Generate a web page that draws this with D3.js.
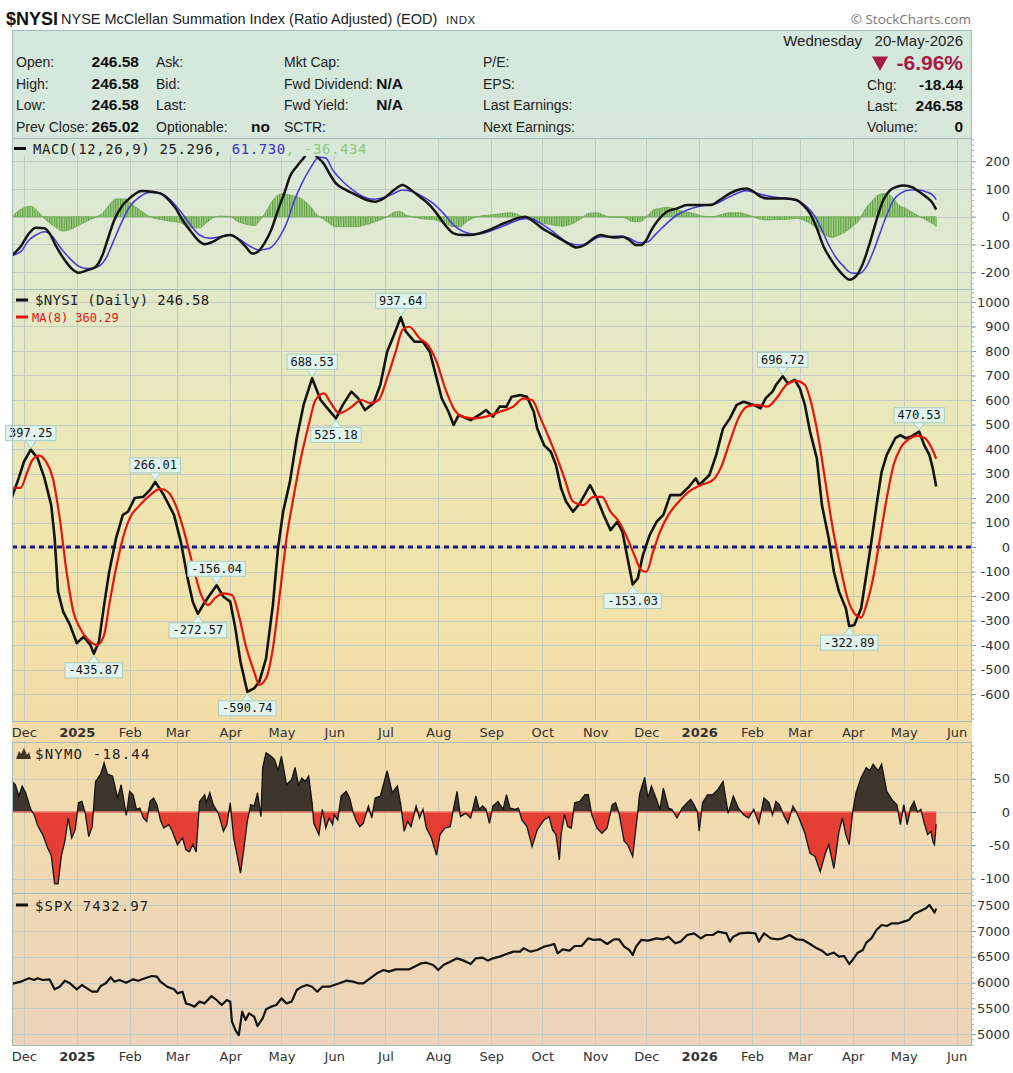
<!DOCTYPE html>
<html>
<head>
<meta charset="utf-8">
<script src="https://cdn.jsdelivr.net/npm/d3@7"></script>
<style>
  body { margin: 0; background: #fff; }
  svg { display: block; }
</style>
</head>
<body>
<div id="chart"></div>
<script>
// ---- data ----
const monthTicks = ["2024-12-01","2025-01-01","2025-02-01","2025-03-01","2025-04-01","2025-05-01","2025-06-01","2025-07-01","2025-08-01","2025-09-01","2025-10-01","2025-11-01","2025-12-01","2026-01-01","2026-02-01","2026-03-01","2026-04-01","2026-05-01","2026-06-01"];
const monthLabels = ["Dec","2025","Feb","Mar","Apr","May","Jun","Jul","Aug","Sep","Oct","Nov","Dec","2026","Feb","Mar","Apr","May","Jun"];

const macdTicks = [-200, -100, 0, 100, 200];
const mainTicks = [-600, -500, -400, -300, -200, -100, 0, 100, 200, 300, 400, 500, 600, 700, 800, 900, 1000];
const nymoTicks = [-100, -50, 0, 50];
const spxTicks = [5000, 5500, 6000, 6500, 7000, 7500];

// $NYSI daily
const nysi = [["2024-11-24",205],["2024-11-28",282],["2024-12-01",348],["2024-12-05",397.25],["2024-12-09",363],["2024-12-13",282],["2024-12-17",171],["2024-12-19",37],["2024-12-21",-182],["2024-12-24",-264],["2024-12-28",-318],["2025-01-01",-392],["2025-01-05",-366],["2025-01-09",-400],["2025-01-11",-435.87],["2025-01-14",-386],["2025-01-17",-237],["2025-01-20",-101],["2025-01-24",35],["2025-01-28",131],["2025-01-31",144],["2025-02-04",200],["2025-02-09",205],["2025-02-13",233],["2025-02-16",266.01],["2025-02-21",212],["2025-02-27",131],["2025-03-03",22],["2025-03-07",-128],["2025-03-10",-223],["2025-03-13",-272.57],["2025-03-16",-237],["2025-03-20",-196],["2025-03-24",-156.04],["2025-03-28",-203],["2025-04-01",-223],["2025-04-04",-332],["2025-04-07",-468],["2025-04-11",-590.74],["2025-04-15",-577],["2025-04-18",-550],["2025-04-22",-454],["2025-04-26",-237],["2025-04-29",-5],["2025-05-02",144],["2025-05-06",267],["2025-05-10",444],["2025-05-14",580],["2025-05-19",688.53],["2025-05-24",600],["2025-05-28",566],["2025-06-02",525.18],["2025-06-06",580],["2025-06-11",634],["2025-06-15",607],["2025-06-19",559],["2025-06-24",587],["2025-06-28",661],["2025-07-02",797],["2025-07-06",865],["2025-07-10",937.64],["2025-07-13",879],["2025-07-18",838],["2025-07-23",838],["2025-07-27",797],["2025-07-31",689],["2025-08-03",607],["2025-08-07",552],["2025-08-10",498],["2025-08-13",539],["2025-08-20",518],["2025-08-25",539],["2025-08-29",559],["2025-09-02",532],["2025-09-06",573],["2025-09-10",573],["2025-09-13",613],["2025-09-18",620],["2025-09-22",613],["2025-09-26",552],["2025-09-28",484],["2025-10-02",416],["2025-10-06",389],["2025-10-09",335],["2025-10-12",240],["2025-10-15",185],["2025-10-19",144],["2025-10-23",178],["2025-10-29",253],["2025-11-02",199],["2025-11-06",131],["2025-11-10",69],["2025-11-14",103],["2025-11-17",62],["2025-11-20",-46],["2025-11-23",-153.03],["2025-11-26",-128],["2025-11-29",-33],["2025-12-03",49],["2025-12-07",103],["2025-12-11",131],["2025-12-15",212],["2025-12-21",212],["2025-12-26",246],["2025-12-30",280],["2026-01-01",253],["2026-01-07",294],["2026-01-11",376],["2026-01-15",484],["2026-01-19",525],["2026-01-23",580],["2026-01-27",593],["2026-02-02",580],["2026-02-06",566],["2026-02-09",607],["2026-02-13",634],["2026-02-15",661],["2026-02-19",696.72],["2026-02-22",668],["2026-02-26",682],["2026-03-01",648],["2026-03-04",580],["2026-03-07",471],["2026-03-11",362],["2026-03-14",171],["2026-03-18",35],["2026-03-21",-101],["2026-03-24",-182],["2026-03-28",-250],["2026-03-30",-322.89],["2026-04-02",-318],["2026-04-06",-250],["2026-04-09",-114],["2026-04-12",22],["2026-04-15",171],["2026-04-18",307],["2026-04-21",376],["2026-04-26",444],["2026-04-29",457],["2026-05-02",444],["2026-05-05",450],["2026-05-10",470.53],["2026-05-13",416],["2026-05-16",376],["2026-05-18",321],["2026-05-20",246.58]];

// MA(8) of $NYSI
const ma8 = [["2024-11-24",241],["2024-11-29",241],["2024-12-03",307],["2024-12-06",355],["2024-12-10",373],["2024-12-14",348],["2024-12-18",280],["2024-12-22",117],["2024-12-26",-101],["2024-12-30",-264],["2025-01-03",-332],["2025-01-09",-386],["2025-01-13",-400],["2025-01-17",-359],["2025-01-20",-237],["2025-01-24",-87],["2025-01-28",35],["2025-02-01",117],["2025-02-07",171],["2025-02-13",212],["2025-02-19",237],["2025-02-23",227],["2025-02-28",171],["2025-03-05",62],["2025-03-10",-73],["2025-03-15",-196],["2025-03-19",-237],["2025-03-23",-209],["2025-03-28",-189],["2025-04-02",-196],["2025-04-06",-278],["2025-04-10",-400],["2025-04-15",-509],["2025-04-18",-563],["2025-04-22",-536],["2025-04-26",-414],["2025-04-30",-196],["2025-05-04",35],["2025-05-08",199],["2025-05-12",348],["2025-05-17",498],["2025-05-21",600],["2025-05-26",627],["2025-05-30",587],["2025-06-04",546],["2025-06-10",566],["2025-06-17",600],["2025-06-22",587],["2025-06-27",600],["2025-07-02",689],["2025-07-07",797],["2025-07-11",886],["2025-07-15",899],["2025-07-21",852],["2025-07-26",824],["2025-07-31",756],["2025-08-05",648],["2025-08-10",566],["2025-08-15",532],["2025-08-22",525],["2025-08-29",532],["2025-09-06",552],["2025-09-14",573],["2025-09-20",607],["2025-09-25",600],["2025-09-30",525],["2025-10-05",444],["2025-10-09",376],["2025-10-14",280],["2025-10-19",185],["2025-10-25",171],["2025-10-31",205],["2025-11-05",205],["2025-11-10",144],["2025-11-15",103],["2025-11-19",49],["2025-11-24",-33],["2025-11-28",-94],["2025-12-01",-101],["2025-12-05",-19],["2025-12-09",62],["2025-12-14",131],["2025-12-20",185],["2025-12-26",226],["2026-01-02",253],["2026-01-09",273],["2026-01-14",328],["2026-01-19",430],["2026-01-24",525],["2026-01-29",573],["2026-02-04",580],["2026-02-10",573],["2026-02-16",613],["2026-02-21",661],["2026-02-27",678],["2026-03-04",661],["2026-03-08",580],["2026-03-12",444],["2026-03-16",267],["2026-03-20",90],["2026-03-25",-87],["2026-03-29",-209],["2026-04-03",-278],["2026-04-06",-288],["2026-04-09",-237],["2026-04-13",-128],["2026-04-17",35],["2026-04-21",199],["2026-04-25",335],["2026-04-29",403],["2026-05-04",441],["2026-05-09",454],["2026-05-13",446],["2026-05-17",409],["2026-05-20",360.29]];

// labelled turning points of $NYSI
const nysiMarks = [["2024-12-05",397.25,"up"],["2025-01-11",-435.87,"down"],["2025-02-16",266.01,"up"],["2025-03-13",-272.57,"down"],["2025-03-24",-156.04,"up"],["2025-04-11",-590.74,"down"],["2025-05-19",688.53,"up"],["2025-06-02",525.18,"down"],["2025-07-10",937.64,"up"],["2025-11-23",-153.03,"down"],["2026-02-19",696.72,"up"],["2026-03-30",-322.89,"down"],["2026-05-10",470.53,"up"]];

// MACD(12,26,9)
const macdLine = [["2024-11-24",-139],["2024-11-29",-108],["2024-12-04",-60],["2024-12-08",-40],["2024-12-13",-42],["2024-12-16",-60],["2024-12-20",-108],["2024-12-25",-157],["2024-12-29",-187],["2025-01-02",-202],["2025-01-07",-193],["2025-01-12",-181],["2025-01-16",-139],["2025-01-19",-84],["2025-01-23",-12],["2025-01-28",42],["2025-02-02",72],["2025-02-08",93],["2025-02-14",90],["2025-02-19",84],["2025-02-24",60],["2025-02-28",30],["2025-03-04",-12],["2025-03-09",-54],["2025-03-13",-84],["2025-03-17",-99],["2025-03-22",-90],["2025-03-27",-72],["2025-04-01",-66],["2025-04-05",-78],["2025-04-10",-108],["2025-04-14",-133],["2025-04-17",-127],["2025-04-21",-96],["2025-04-25",-48],["2025-04-29",24],["2025-05-03",90],["2025-05-06",145],["2025-05-10",181],["2025-05-14",211],["2025-05-18",240],["2025-05-22",215],["2025-05-26",190],["2025-05-29",157],["2025-06-02",120],["2025-06-08",96],["2025-06-14",78],["2025-06-20",60],["2025-06-25",54],["2025-06-30",66],["2025-07-06",96],["2025-07-11",114],["2025-07-16",96],["2025-07-21",72],["2025-07-27",42],["2025-07-31",12],["2025-08-05",-30],["2025-08-10",-60],["2025-08-15",-66],["2025-08-20",-66],["2025-08-25",-60],["2025-08-31",-48],["2025-09-06",-30],["2025-09-11",-18],["2025-09-16",-6],["2025-09-21",0],["2025-09-26",-18],["2025-10-01",-42],["2025-10-06",-60],["2025-10-11",-78],["2025-10-16",-96],["2025-10-21",-111],["2025-10-26",-102],["2025-10-31",-78],["2025-11-04",-66],["2025-11-09",-72],["2025-11-14",-75],["2025-11-17",-72],["2025-11-21",-84],["2025-11-25",-102],["2025-11-28",-102],["2025-12-01",-84],["2025-12-04",-48],["2025-12-08",-12],["2025-12-13",18],["2025-12-19",30],["2025-12-25",42],["2025-12-30",42],["2026-01-03",42],["2026-01-08",42],["2026-01-13",60],["2026-01-19",84],["2026-01-25",99],["2026-01-29",102],["2026-02-02",90],["2026-02-06",72],["2026-02-10",66],["2026-02-15",66],["2026-02-21",66],["2026-02-27",60],["2026-03-03",42],["2026-03-07",12],["2026-03-11",-42],["2026-03-15",-108],["2026-03-19",-151],["2026-03-23",-187],["2026-03-27",-214],["2026-03-30",-227],["2026-04-03",-214],["2026-04-07",-169],["2026-04-11",-96],["2026-04-15",-12],["2026-04-19",60],["2026-04-23",96],["2026-04-27",108],["2026-05-01",112],["2026-05-06",106],["2026-05-10",90],["2026-05-14",72],["2026-05-18",48],["2026-05-20",25.296]];

const macdSignal = [["2024-11-24",-139],["2024-11-29",-127],["2024-12-04",-84],["2024-12-08",-66],["2024-12-13",-54],["2024-12-17",-66],["2024-12-22",-108],["2024-12-28",-151],["2025-01-03",-181],["2025-01-08",-187],["2025-01-13",-181],["2025-01-18",-151],["2025-01-22",-96],["2025-01-27",-24],["2025-02-01",36],["2025-02-07",72],["2025-02-13",87],["2025-02-19",84],["2025-02-25",60],["2025-03-03",18],["2025-03-08",-24],["2025-03-14",-66],["2025-03-20",-78],["2025-03-26",-72],["2025-04-01",-66],["2025-04-07",-84],["2025-04-13",-108],["2025-04-18",-120],["2025-04-24",-114],["2025-04-30",-72],["2025-05-04",-24],["2025-05-08",48],["2025-05-13",120],["2025-05-18",175],["2025-05-23",214],["2025-05-27",211],["2025-05-31",169],["2025-06-06",127],["2025-06-12",96],["2025-06-18",72],["2025-06-24",63],["2025-06-30",69],["2025-07-06",84],["2025-07-11",96],["2025-07-17",90],["2025-07-23",72],["2025-07-29",48],["2025-08-04",12],["2025-08-10",-30],["2025-08-16",-54],["2025-08-22",-63],["2025-08-27",-60],["2025-09-02",-48],["2025-09-06",-39],["2025-09-12",-24],["2025-09-18",-10],["2025-09-24",-6],["2025-09-30",-24],["2025-10-06",-48],["2025-10-11",-72],["2025-10-17",-96],["2025-10-23",-102],["2025-10-29",-90],["2025-11-04",-72],["2025-11-10",-72],["2025-11-16",-70],["2025-11-21",-78],["2025-11-27",-94],["2025-12-02",-90],["2025-12-07",-60],["2025-12-13",-24],["2025-12-19",6],["2025-12-25",24],["2025-12-31",36],["2026-01-05",42],["2026-01-11",48],["2026-01-17",66],["2026-01-23",84],["2026-01-29",94],["2026-02-04",84],["2026-02-10",75],["2026-02-15",70],["2026-02-21",66],["2026-02-27",58],["2026-03-05",36],["2026-03-10",0],["2026-03-14",-48],["2026-03-18",-102],["2026-03-22",-145],["2026-03-27",-181],["2026-03-31",-202],["2026-04-05",-205],["2026-04-09",-181],["2026-04-13",-127],["2026-04-17",-60],["2026-04-21",6],["2026-04-25",60],["2026-04-29",84],["2026-05-05",96],["2026-05-10",96],["2026-05-14",90],["2026-05-18",78],["2026-05-20",61.73]];

const macdHist = [["2024-11-24",0],["2024-11-29",26],["2024-12-05",38],["2024-12-08",26],["2024-12-12",0],["2024-12-16",-22],["2024-12-20",-40],["2024-12-24",-52],["2024-12-28",-46],["2025-01-03",-28],["2025-01-09",-10],["2025-01-13",0],["2025-01-17",18],["2025-01-20",42],["2025-01-24",64],["2025-01-29",64],["2025-02-03",42],["2025-02-07",24],["2025-02-13",0],["2025-02-19",-10],["2025-02-25",-16],["2025-03-03",-22],["2025-03-08",-40],["2025-03-14",-40],["2025-03-18",-22],["2025-03-22",-4],["2025-03-26",2],["2025-04-01",0],["2025-04-05",-16],["2025-04-11",-28],["2025-04-15",-32],["2025-04-18",-16],["2025-04-22",18],["2025-04-26",60],["2025-05-01",82],["2025-05-06",78],["2025-05-10",72],["2025-05-14",60],["2025-05-18",36],["2025-05-22",6],["2025-05-26",-10],["2025-05-30",-28],["2025-06-02",-36],["2025-06-08",-36],["2025-06-14",-36],["2025-06-20",-28],["2025-06-26",-16],["2025-07-02",0],["2025-07-07",18],["2025-07-10",18],["2025-07-13",6],["2025-07-17",0],["2025-07-23",-8],["2025-07-29",-10],["2025-08-04",-22],["2025-08-10",-36],["2025-08-14",-36],["2025-08-18",-16],["2025-08-24",0],["2025-08-31",6],["2025-09-06",10],["2025-09-12",14],["2025-09-16",10],["2025-09-20",-2],["2025-09-26",-18],["2025-10-02",-24],["2025-10-07",-30],["2025-10-13",-34],["2025-10-19",-24],["2025-10-24",-6],["2025-10-28",12],["2025-11-02",14],["2025-11-06",6],["2025-11-10",-2],["2025-11-16",-2],["2025-11-19",-6],["2025-11-23",-18],["2025-11-27",-18],["2025-12-01",-2],["2025-12-05",24],["2025-12-09",30],["2025-12-13",34],["2025-12-17",30],["2025-12-23",18],["2025-12-29",12],["2026-01-03",2],["2026-01-09",0],["2026-01-13",6],["2026-01-19",14],["2026-01-25",14],["2026-01-30",6],["2026-02-04",-6],["2026-02-10",-12],["2026-02-15",-10],["2026-02-21",-10],["2026-02-27",-6],["2026-03-03",-12],["2026-03-07",-24],["2026-03-11",-42],["2026-03-16",-66],["2026-03-20",-75],["2026-03-24",-66],["2026-03-28",-54],["2026-04-01",-34],["2026-04-05",-12],["2026-04-08",24],["2026-04-12",54],["2026-04-16",78],["2026-04-20",84],["2026-04-24",72],["2026-04-28",42],["2026-05-02",30],["2026-05-07",12],["2026-05-11",-2],["2026-05-16",-18],["2026-05-19",-30],["2026-05-20",-36.434]];

// $NYMO
const nymo = [["2024-11-24",46],["2024-11-26",41],["2024-11-28",24],["2024-11-30",39],["2024-12-02",29],["2024-12-05",4],["2024-12-07",-4],["2024-12-09",-20],["2024-12-12",-34],["2024-12-15",-55],["2024-12-17",-65],["2024-12-19",-108],["2024-12-21",-108],["2024-12-23",-65],["2024-12-25",-44],["2024-12-27",-9],["2024-12-29",-39],["2024-12-31",-27],["2025-01-02",14],["2025-01-04",16],["2025-01-06",-2],["2025-01-08",-37],["2025-01-10",-22],["2025-01-12",46],["2025-01-15",57],["2025-01-17",74],["2025-01-19",57],["2025-01-22",54],["2025-01-25",21],["2025-01-27",41],["2025-01-29",11],["2025-01-30",-5],["2025-02-01",31],["2025-02-03",26],["2025-02-05",4],["2025-02-07",6],["2025-02-09",-9],["2025-02-11",-14],["2025-02-13",16],["2025-02-15",21],["2025-02-17",11],["2025-02-19",-12],["2025-02-21",-24],["2025-02-24",-19],["2025-02-26",-29],["2025-03-01",-49],["2025-03-04",-39],["2025-03-06",-57],["2025-03-08",-60],["2025-03-10",-49],["2025-03-12",-60],["2025-03-14",16],["2025-03-17",26],["2025-03-18",14],["2025-03-20",29],["2025-03-22",11],["2025-03-25",-2],["2025-03-28",-29],["2025-03-30",-19],["2025-04-01",14],["2025-04-03",-39],["2025-04-05",-65],["2025-04-07",-92],["2025-04-09",-55],["2025-04-11",-14],["2025-04-13",11],["2025-04-15",9],["2025-04-17",29],["2025-04-19",-7],["2025-04-20",67],["2025-04-22",89],["2025-04-25",84],["2025-04-27",79],["2025-04-29",62],["2025-05-01",84],["2025-05-04",41],["2025-05-07",49],["2025-05-09",67],["2025-05-11",41],["2025-05-13",51],["2025-05-15",46],["2025-05-17",54],["2025-05-19",14],["2025-05-20",-17],["2025-05-23",-34],["2025-05-25",4],["2025-05-27",-24],["2025-05-29",-9],["2025-05-31",-19],["2025-06-01",-4],["2025-06-03",-12],["2025-06-05",24],["2025-06-08",31],["2025-06-10",21],["2025-06-12",0],["2025-06-14",-14],["2025-06-16",-22],["2025-06-18",-17],["2025-06-21",9],["2025-06-23",-9],["2025-06-25",21],["2025-06-28",24],["2025-07-02",62],["2025-07-05",29],["2025-07-08",39],["2025-07-10",11],["2025-07-12",-29],["2025-07-14",-14],["2025-07-16",-22],["2025-07-19",9],["2025-07-21",-9],["2025-07-23",4],["2025-07-25",-24],["2025-07-28",-39],["2025-07-31",-65],["2025-08-02",-34],["2025-08-05",-24],["2025-08-08",-22],["2025-08-10",6],["2025-08-12",31],["2025-08-14",-7],["2025-08-17",-2],["2025-08-20",-9],["2025-08-23",24],["2025-08-25",4],["2025-08-27",9],["2025-08-29",4],["2025-08-31",-17],["2025-09-02",9],["2025-09-05",16],["2025-09-08",4],["2025-09-10",26],["2025-09-12",6],["2025-09-15",4],["2025-09-17",6],["2025-09-19",-12],["2025-09-22",-22],["2025-09-25",-52],["2025-09-28",-27],["2025-10-02",-12],["2025-10-05",-7],["2025-10-07",-27],["2025-10-09",-34],["2025-10-11",-72],["2025-10-12",-34],["2025-10-14",-4],["2025-10-16",-22],["2025-10-18",-24],["2025-10-20",14],["2025-10-23",16],["2025-10-26",26],["2025-10-28",26],["2025-10-30",-4],["2025-11-02",-24],["2025-11-05",-32],["2025-11-08",-24],["2025-11-11",11],["2025-11-13",14],["2025-11-15",-2],["2025-11-18",-44],["2025-11-20",-49],["2025-11-23",-67],["2025-11-26",0],["2025-11-27",26],["2025-11-30",52],["2025-12-02",21],["2025-12-04",39],["2025-12-07",19],["2025-12-09",4],["2025-12-11",36],["2025-12-14",6],["2025-12-16",4],["2025-12-19",-9],["2025-12-22",6],["2025-12-25",14],["2025-12-27",19],["2025-12-29",11],["2025-12-31",0],["2026-01-01",-29],["2026-01-03",14],["2026-01-06",26],["2026-01-09",26],["2026-01-12",34],["2026-01-15",46],["2026-01-18",-2],["2026-01-21",24],["2026-01-24",6],["2026-01-27",-4],["2026-01-30",-9],["2026-02-02",4],["2026-02-05",-17],["2026-02-08",21],["2026-02-11",14],["2026-02-13",-4],["2026-02-15",16],["2026-02-17",11],["2026-02-20",-7],["2026-02-22",-17],["2026-02-25",9],["2026-02-27",0],["2026-03-01",-12],["2026-03-04",-32],["2026-03-07",-62],["2026-03-10",-67],["2026-03-13",-90],["2026-03-16",-62],["2026-03-18",-49],["2026-03-21",-85],["2026-03-24",-29],["2026-03-26",-9],["2026-03-28",-34],["2026-03-30",-49],["2026-04-01",0],["2026-04-03",29],["2026-04-06",52],["2026-04-09",67],["2026-04-11",62],["2026-04-13",72],["2026-04-16",62],["2026-04-18",72],["2026-04-21",31],["2026-04-24",19],["2026-04-27",11],["2026-04-29",-19],["2026-05-01",11],["2026-05-03",-19],["2026-05-05",6],["2026-05-07",16],["2026-05-09",0],["2026-05-11",4],["2026-05-13",-17],["2026-05-15",-34],["2026-05-17",-29],["2026-05-18",-44],["2026-05-19",-49],["2026-05-20",-18.44]];

// $SPX
const spx = [["2024-11-24",5973],["2024-11-29",6018],["2024-12-04",6083],["2024-12-07",6050],["2024-12-09",6083],["2024-12-12",6050],["2024-12-16",6063],["2024-12-19",5870],["2024-12-22",5921],["2024-12-25",6037],["2024-12-28",5986],["2025-01-01",5870],["2025-01-04",5954],["2025-01-07",5889],["2025-01-10",5824],["2025-01-13",5824],["2025-01-15",5934],["2025-01-18",5986],["2025-01-21",6102],["2025-01-23",6018],["2025-01-26",6050],["2025-01-30",5999],["2025-02-03",6063],["2025-02-06",6037],["2025-02-10",6083],["2025-02-14",6128],["2025-02-17",6115],["2025-02-19",6018],["2025-02-23",5921],["2025-02-27",5870],["2025-03-01",5792],["2025-03-04",5824],["2025-03-06",5598],["2025-03-09",5566],["2025-03-11",5534],["2025-03-14",5631],["2025-03-17",5598],["2025-03-21",5740],["2025-03-24",5663],["2025-03-27",5566],["2025-03-30",5663],["2025-04-01",5631],["2025-04-02",5243],["2025-04-04",5081],["2025-04-06",4984],["2025-04-08",5437],["2025-04-10",5275],["2025-04-12",5404],["2025-04-15",5340],["2025-04-17",5159],["2025-04-20",5307],["2025-04-22",5482],["2025-04-25",5534],["2025-04-28",5566],["2025-05-01",5695],["2025-05-04",5598],["2025-05-07",5631],["2025-05-10",5857],["2025-05-13",5921],["2025-05-16",5954],["2025-05-19",5921],["2025-05-22",5824],["2025-05-25",5921],["2025-05-29",5921],["2025-06-01",5954],["2025-06-04",5986],["2025-06-08",6037],["2025-06-12",6018],["2025-06-15",5986],["2025-06-18",5986],["2025-06-22",6083],["2025-06-26",6180],["2025-06-30",6244],["2025-07-03",6212],["2025-07-07",6257],["2025-07-11",6257],["2025-07-15",6257],["2025-07-18",6309],["2025-07-22",6373],["2025-07-25",6386],["2025-07-29",6341],["2025-08-01",6244],["2025-08-04",6341],["2025-08-08",6406],["2025-08-12",6470],["2025-08-16",6425],["2025-08-20",6360],["2025-08-23",6470],["2025-08-27",6483],["2025-08-30",6425],["2025-09-02",6470],["2025-09-06",6503],["2025-09-10",6554],["2025-09-14",6600],["2025-09-18",6600],["2025-09-20",6664],["2025-09-24",6600],["2025-09-28",6632],["2025-10-02",6696],["2025-10-06",6729],["2025-10-08",6748],["2025-10-10",6567],["2025-10-13",6645],["2025-10-17",6619],["2025-10-20",6709],["2025-10-24",6709],["2025-10-28",6858],["2025-10-31",6826],["2025-11-04",6839],["2025-11-08",6748],["2025-11-12",6839],["2025-11-15",6839],["2025-11-18",6696],["2025-11-21",6632],["2025-11-23",6535],["2025-11-25",6696],["2025-11-28",6826],["2025-12-02",6813],["2025-12-07",6858],["2025-12-11",6839],["2025-12-14",6890],["2025-12-18",6761],["2025-12-21",6793],["2025-12-25",6922],["2025-12-29",6955],["2026-01-02",6858],["2026-01-05",6922],["2026-01-09",6922],["2026-01-12",6987],["2026-01-17",6955],["2026-01-19",6793],["2026-01-21",6890],["2026-01-25",6955],["2026-01-30",6968],["2026-02-03",6955],["2026-02-05",6793],["2026-02-08",6955],["2026-02-12",6858],["2026-02-16",6839],["2026-02-19",6858],["2026-02-23",6922],["2026-02-27",6839],["2026-03-03",6826],["2026-03-07",6748],["2026-03-11",6664],["2026-03-14",6619],["2026-03-17",6535],["2026-03-21",6580],["2026-03-24",6503],["2026-03-27",6515],["2026-03-30",6360],["2026-04-01",6438],["2026-04-04",6580],["2026-04-07",6632],["2026-04-09",6774],["2026-04-12",6858],["2026-04-15",7019],["2026-04-18",7116],["2026-04-21",7097],["2026-04-24",7149],["2026-04-28",7149],["2026-05-01",7181],["2026-05-04",7213],["2026-05-07",7329],["2026-05-11",7394],["2026-05-14",7439],["2026-05-16",7504],["2026-05-18",7407],["2026-05-19",7355],["2026-05-20",7432.97]];

// ---- layout ----
const W = 1013, H = 1073;
const L = 12, R = 972;
const P = {
  macd: { top: 138, bottom: 289 },
  main: { top: 289, bottom: 721 },
  nymo: { top: 742, bottom: 893 },
  spx:  { top: 893, bottom: 1045 }
};

const parse = d3.timeParse("%Y-%m-%d");
const pts = arr => arr.map(([d, v]) => ({ date: parse(d), v: v }));

const x = d3.scaleTime().domain([parse("2024-11-24"), parse("2026-06-10")]).range([L, R]);
const yMacd = d3.scaleLinear().domain([-260.5, 283.6]).range([P.macd.bottom, P.macd.top]);
const yMain = d3.scaleLinear().domain([-710, 1053]).range([P.main.bottom, P.main.top]);
const yNymo = d3.scaleLinear().domain([-121.8, 105.3]).range([P.nymo.bottom, P.nymo.top]);
const ySpx  = d3.scaleLinear().domain([4791, 7736]).range([P.spx.bottom, P.spx.top]);

const svg = d3.select("#chart").append("svg").attr("width", W).attr("height", H);
svg.append("rect").attr("width", W).attr("height", H).attr("fill", "#fff");
const defs = svg.append("defs");

// background gradient running down the whole chart
const grad = defs.append("linearGradient").attr("id", "bg")
  .attr("gradientUnits", "userSpaceOnUse").attr("x1", 0).attr("y1", 30).attr("x2", 0).attr("y2", 1045);
[[30, "#d4e8dd"], [140, "#d7e8da"], [290, "#e2e9c9"], [420, "#eae8b9"], [550, "#f0e4ad"],
 [720, "#f3dca7"], [830, "#f0dbb1"], [1045, "#ecd3b9"]].forEach(([yy, c]) => {
  grad.append("stop").attr("offset", (yy - 30) / 1015).attr("stop-color", c);
});

// striped fill for the MACD histogram
const pat = defs.append("pattern").attr("id", "histPat").attr("patternUnits", "userSpaceOnUse")
  .attr("width", 2.45).attr("height", 10);
pat.append("rect").attr("width", 2.45).attr("height", 10).attr("fill", "#a8d38e");
pat.append("rect").attr("width", 1.1).attr("height", 10).attr("fill", "#5b9a3e");

Object.entries(P).forEach(([k, p]) => {
  defs.append("clipPath").attr("id", "clip-" + k).append("rect")
    .attr("x", L).attr("y", p.top).attr("width", R - L).attr("height", p.bottom - p.top);
});
defs.append("clipPath").attr("id", "nymoPos").append("rect")
  .attr("x", L).attr("y", P.nymo.top).attr("width", R - L).attr("height", yNymo(0) - P.nymo.top);
defs.append("clipPath").attr("id", "nymoNeg").append("rect")
  .attr("x", L).attr("y", yNymo(0)).attr("width", R - L).attr("height", P.nymo.bottom - yNymo(0));

svg.append("rect").attr("x", L).attr("y", 30).attr("width", R - L).attr("height", 1045 - 30).attr("fill", "url(#bg)");

// gridlines
function grid(p, y, ticks) {
  const g = svg.append("g").attr("stroke", "#c3cbc3").attr("stroke-width", 1)
    .attr("shape-rendering", "crispEdges");
  g.selectAll(".v").data(monthTicks.map(parse)).join("line")
    .attr("x1", d => Math.round(x(d)) + 0.5).attr("x2", d => Math.round(x(d)) + 0.5)
    .attr("y1", p.top).attr("y2", p.bottom);
  g.selectAll(".h").data(ticks).join("line")
    .attr("x1", L).attr("x2", R)
    .attr("y1", d => Math.round(y(d)) + 0.5).attr("y2", d => Math.round(y(d)) + 0.5);
}
grid(P.macd, yMacd, macdTicks);
grid(P.main, yMain, mainTicks);
grid(P.nymo, yNymo, nymoTicks);
grid(P.spx, ySpx, spxTicks);

const lineGen = (y, curve) => d3.line().x(d => x(d.date)).y(d => y(d.v)).curve(curve || d3.curveLinear);

// ---- MACD panel ----
const gMacd = svg.append("g").attr("clip-path", "url(#clip-macd)");
gMacd.append("path").datum(pts(macdHist))
  .attr("d", d3.area().x(d => x(d.date)).y0(yMacd(0)).y1(d => yMacd(d.v)).curve(d3.curveMonotoneX))
  .attr("fill", "url(#histPat)").attr("stroke", "#6aa84c").attr("stroke-width", 0.8);
gMacd.append("path").datum(pts(macdSignal)).attr("d", lineGen(yMacd, d3.curveMonotoneX))
  .attr("fill", "none").attr("stroke", "#4a3ed4").attr("stroke-width", 1.6);
gMacd.append("path").datum(pts(macdLine)).attr("d", lineGen(yMacd, d3.curveMonotoneX))
  .attr("fill", "none").attr("stroke", "#151515").attr("stroke-width", 2.5);

// ---- main panel ----
const gMain = svg.append("g").attr("clip-path", "url(#clip-main)");
gMain.append("line").attr("x1", L).attr("x2", R).attr("y1", yMain(0)).attr("y2", yMain(0))
  .attr("stroke", "#1f1a7c").attr("stroke-width", 3).attr("stroke-dasharray", "5,4");
gMain.append("path").datum(pts(nysi)).attr("d", lineGen(yMain))
  .attr("fill", "none").attr("stroke", "#141414").attr("stroke-width", 2.6).attr("stroke-linejoin", "round");
gMain.append("path").datum(pts(ma8)).attr("d", lineGen(yMain, d3.curveMonotoneX))
  .attr("fill", "none").attr("stroke", "#e5140e").attr("stroke-width", 2.2);

// value boxes on turning points
const gMarks = svg.append("g").attr("font-family", "DejaVu Sans Mono").attr("font-size", 12);
nysiMarks.forEach(([d, v, dir]) => {
  const px = x(parse(d)), py = yMain(v);
  const s = dir === "up" ? -1 : 1;
  const g = gMarks.append("g");
  const t = g.append("text").text(v.toFixed(2)).attr("fill", "#111").attr("text-anchor", "middle");
  const w = t.node().getComputedTextLength() + 7, h = 15;
  const by = dir === "up" ? py - 9 - h : py + 9;
  g.insert("path", "text")
    .attr("d", `M${px - 6},${py + s * 9.5}L${px},${py + s * 1.5}L${px + 6},${py + s * 9.5}Z`)
    .attr("fill", "#e2f4ee").attr("stroke", "#a6cdc6");
  g.insert("rect", "text").attr("x", px - w / 2).attr("y", by).attr("width", w).attr("height", h)
    .attr("fill", "#e2f4ee").attr("stroke", "#a6cdc6");
  t.attr("x", px).attr("y", by + 11.5);
});

// ---- NYMO panel ----
const gNymo = svg.append("g").attr("clip-path", "url(#clip-nymo)");
const nymoPts = pts(nymo);
const nymoArea = d3.area().x(d => x(d.date)).y0(yNymo(0)).y1(d => yNymo(d.v));
gNymo.append("g").attr("clip-path", "url(#nymoPos)").append("path").datum(nymoPts)
  .attr("d", nymoArea).attr("fill", "#3e352c");
gNymo.append("g").attr("clip-path", "url(#nymoNeg)").append("path").datum(nymoPts)
  .attr("d", nymoArea).attr("fill", "#e53f33");
gNymo.append("line").attr("x1", x(nymoPts[0].date)).attr("x2", x(nymoPts[nymoPts.length - 1].date))
  .attr("y1", yNymo(0)).attr("y2", yNymo(0)).attr("stroke", "#e9776a").attr("stroke-width", 1.5);
gNymo.append("path").datum(nymoPts).attr("d", lineGen(yNymo))
  .attr("fill", "none").attr("stroke", "#141414").attr("stroke-width", 1.3);

// ---- SPX panel ----
svg.append("g").attr("clip-path", "url(#clip-spx)").append("path").datum(pts(spx))
  .attr("d", lineGen(ySpx)).attr("fill", "none").attr("stroke", "#141414").attr("stroke-width", 2.2)
  .attr("stroke-linejoin", "round");

// ---- legends ----
svg.append("rect").attr("x", L + 1).attr("y", P.macd.top + 1).attr("width", 362).attr("height", 17)
  .attr("fill", "url(#bg)");
const legFont = "DejaVu Sans Mono";
function dash(x1, yy, color) {
  svg.append("line").attr("x1", x1).attr("x2", x1 + 12).attr("y1", yy).attr("y2", yy)
    .attr("stroke", color).attr("stroke-width", 3);
}
dash(14, 148.5, "#111");
const macdLeg = svg.append("text").attr("x", 33).attr("y", 153.5).attr("font-family", legFont)
  .attr("font-size", 14).attr("letter-spacing", 0.6);
macdLeg.append("tspan").attr("fill", "#222").text("MACD(12,26,9) 25.296, ");
macdLeg.append("tspan").attr("fill", "#3b30c8").text("61.730");
macdLeg.append("tspan").attr("fill", "#8cc97a").text(", -36.434");

dash(16, 300, "#111");
svg.append("text").attr("x", 35).attr("y", 305).attr("font-family", legFont).attr("font-size", 14)
  .attr("letter-spacing", 0.3).attr("fill", "#222").text("$NYSI (Daily) 246.58");
dash(16, 317, "#e5140e");
svg.append("text").attr("x", 32).attr("y", 322).attr("font-family", legFont).attr("font-size", 12)
  .attr("fill", "#e5140e").text("MA(8) 360.29");

svg.append("path").attr("d", "M16,759L19,751L21,754L24,748L27,755L29,752L31,759Z").attr("fill", "#3e352c");
svg.append("text").attr("x", 35).attr("y", 759).attr("font-family", legFont).attr("font-size", 14)
  .attr("letter-spacing", 1.2).attr("fill", "#222").text("$NYMO -18.44");

dash(16, 905, "#111");
svg.append("text").attr("x", 35).attr("y", 911).attr("font-family", legFont).attr("font-size", 14)
  .attr("letter-spacing", 1.1).attr("fill", "#222").text("$SPX 7432.97");

// ---- frames ----
const frame = svg.append("g").attr("fill", "none").attr("stroke", "#a2bcbc").attr("stroke-width", 1)
  .attr("shape-rendering", "crispEdges");
frame.append("rect").attr("x", L + 0.5).attr("y", 30.5).attr("width", R - L - 1).attr("height", 108);
Object.values(P).forEach(p => {
  frame.append("rect").attr("x", L + 0.5).attr("y", p.top + 0.5).attr("width", R - L - 1).attr("height", p.bottom - p.top);
});

// ---- axes ----
function rightAxis(y, ticks, minorStep) {
  const [d0, d1] = y.domain();
  const minor = d3.range(Math.ceil(d0 / minorStep) * minorStep, d1, minorStep);
  const gm = svg.append("g").attr("transform", `translate(${R},0)`)
    .call(d3.axisRight(y).tickValues(minor).tickSize(2).tickFormat(""));
  gm.select(".domain").remove();
  gm.selectAll("line").attr("stroke", "#9cb6b6");
  const g = svg.append("g").attr("transform", `translate(${R},0)`)
    .call(d3.axisRight(y).tickValues(ticks).tickSize(4).tickFormat(d => String(d)));
  g.select(".domain").remove();
  g.selectAll("line").attr("stroke", "#88a2a2");
  g.selectAll("text").attr("x", 38).attr("text-anchor", "end")
    .attr("font-family", "DejaVu Sans").attr("font-size", 13).attr("fill", "#333");
}
rightAxis(yMacd, macdTicks, 20);
rightAxis(yMain, mainTicks, 20);
rightAxis(yNymo, nymoTicks, 10);
rightAxis(ySpx, spxTicks, 100);

function monthAxis(yPos) {
  const g = svg.append("g").attr("transform", `translate(0,${yPos})`)
    .call(d3.axisBottom(x).tickValues(monthTicks.map(parse)).tickSize(0).tickFormat((d, i) => monthLabels[i]));
  g.select(".domain").remove();
  g.selectAll("text").attr("y", 16).attr("dy", null)
    .attr("font-family", "DejaVu Sans").attr("font-size", 13).attr("fill", "#333")
    .attr("font-weight", (d, i) => /^\d/.test(monthLabels[i]) ? "bold" : "normal");
}
monthAxis(P.main.bottom);
monthAxis(P.spx.bottom);

// ---- title and quote box ----
const hf = "Liberation Sans";
svg.append("text").attr("x", 6).attr("y", 25).attr("font-family", hf).attr("font-size", 18)
  .attr("font-weight", "bold").attr("fill", "#111").text("$NYSI");
svg.append("text").attr("x", 61).attr("y", 24).attr("font-family", hf).attr("font-size", 14.5)
  .attr("fill", "#222").text("NYSE McClellan Summation Index (Ratio Adjusted) (EOD)");
svg.append("text").attr("x", 446).attr("y", 24).attr("font-family", hf).attr("font-size", 11.5)
  .attr("letter-spacing", 0.6).attr("fill", "#222").text("INDX");
svg.append("text").attr("x", 971).attr("y", 23.5).attr("text-anchor", "end").attr("font-family", "Open Sans")
  .attr("font-size", 13.5).attr("fill", "#777").text("\u00A9 StockCharts.com");

const rowsY = [67, 88.5, 110, 131.5];
const quote = svg.append("g").attr("font-family", hf).attr("font-size", 14).attr("fill", "#222");
const cols = [
  { x: 16, labels: ["Open:", "High:", "Low:", "Prev Close:"], vx: 139, vals: ["246.58", "246.58", "246.58", "265.02"] },
  { x: 156, labels: ["Ask:", "Bid:", "Last:", "Optionable:"], vx: 270, vals: ["", "", "", "no"] },
  { x: 284, labels: ["Mkt Cap:", "Fwd Dividend:", "Fwd Yield:", "SCTR:"], vx: 403, vals: ["", "N/A", "N/A", ""] },
  { x: 483, labels: ["P/E:", "EPS:", "Last Earnings:", "Next Earnings:"], vx: 0, vals: ["", "", "", ""] }
];
cols.forEach(c => {
  c.labels.forEach((lab, i) => {
    quote.append("text").attr("x", c.x).attr("y", rowsY[i]).text(lab);
    if (c.vals[i]) quote.append("text").attr("x", c.vx).attr("y", rowsY[i]).attr("text-anchor", "end")
      .attr("font-weight", "bold").attr("font-size", 15.5).attr("fill", "#111").text(c.vals[i]);
  });
});
quote.append("text").attr("x", 963).attr("y", 46).attr("text-anchor", "end").attr("font-size", 15)
  .attr("xml:space", "preserve").style("white-space", "pre").text("Wednesday   20-May-2026");
quote.append("path").attr("d", "M872,56.5L888,56.5L880,71Z").attr("fill", "#a41c46");
quote.append("text").attr("x", 963).attr("y", 70).attr("text-anchor", "end").attr("font-size", 21)
  .attr("font-weight", "bold").attr("fill", "#a41c46").text("-6.96%");
[["Chg:", "-18.44", 89.5], ["Last:", "246.58", 111], ["Volume:", "0", 132]].forEach(([lab, val, yy]) => {
  quote.append("text").attr("x", 867).attr("y", yy).text(lab);
  quote.append("text").attr("x", 963).attr("y", yy).attr("text-anchor", "end").attr("font-weight", "bold")
    .attr("font-size", 15.5).attr("fill", "#111").text(val);
});
</script>
</body>
</html>
